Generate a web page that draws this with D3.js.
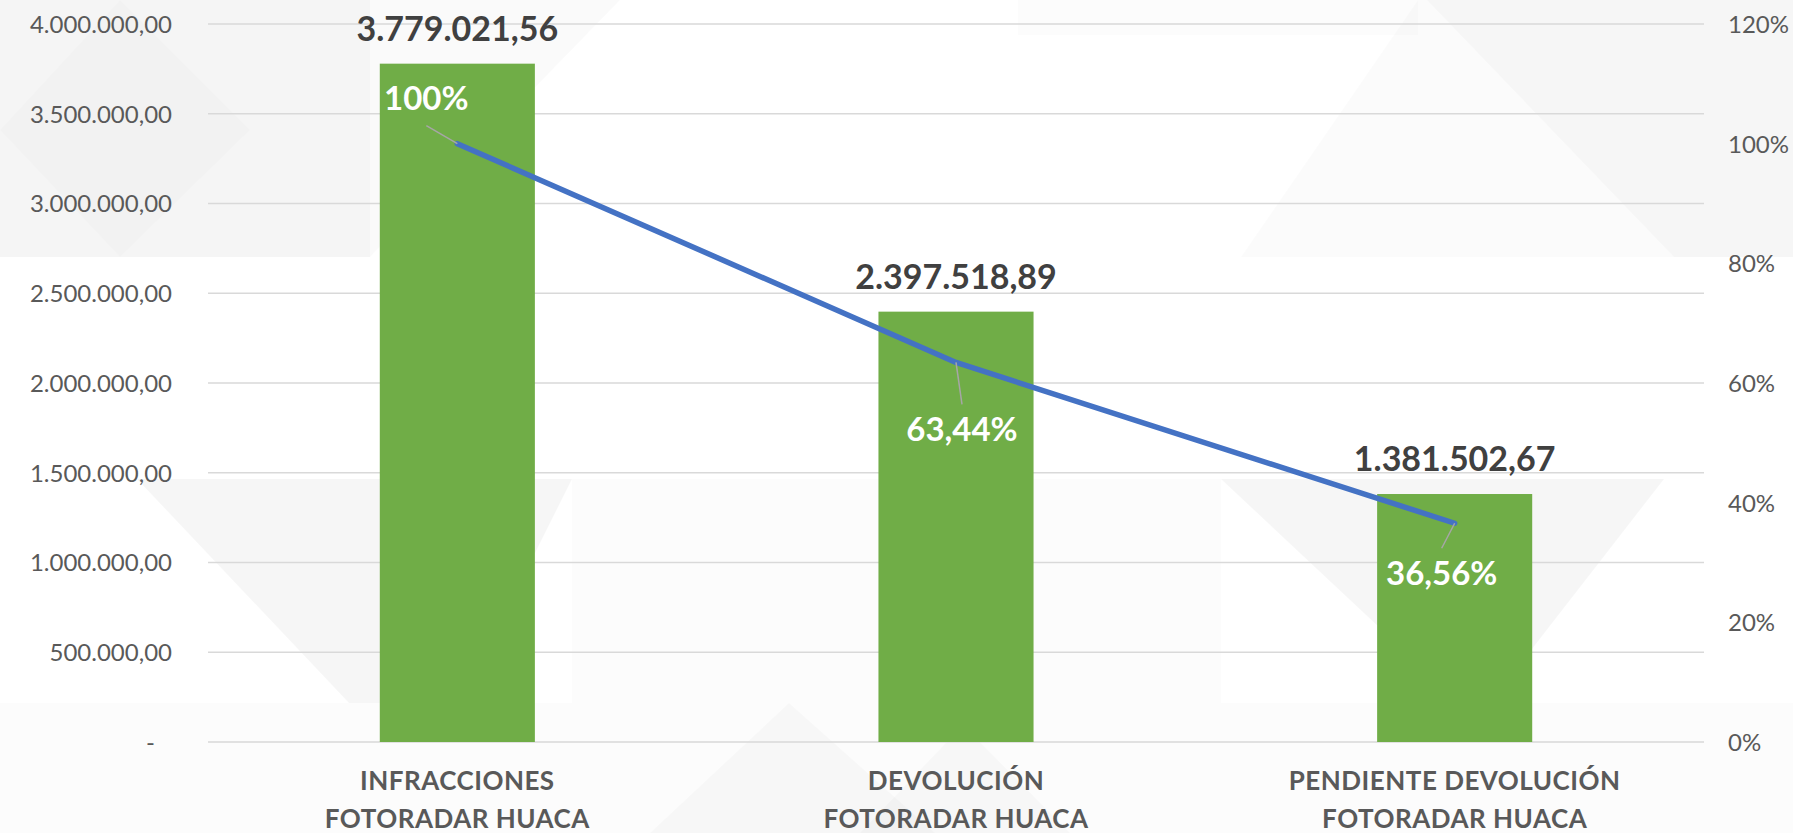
<!DOCTYPE html>
<html lang="es">
<head>
<meta charset="utf-8">
<script src="https://cdn.jsdelivr.net/npm/d3@7"></script>
<style>
  html, body { margin: 0; padding: 0; background: #ffffff; }
  svg { display: block; }
  text { font-family: Lato, "Open Sans", sans-serif; }
</style>
</head>
<body>
<svg id="chart" width="1793" height="833"></svg>
<script>
// ---- data ----
const categoryLines = [
  ["INFRACCIONES", "FOTORADAR HUACA"],
  ["DEVOLUCIÓN", "FOTORADAR HUACA"],
  ["PENDIENTE DEVOLUCIÓN", "FOTORADAR HUACA"]
];
const categories = categoryLines.map(l => l.join(" "));
const amounts = [3779021.56, 2397518.89, 1381502.67];
const shares = [1.00, 0.6344, 0.3656];
const leftTicks = [0, 500000, 1000000, 1500000, 2000000, 2500000, 3000000, 3500000, 4000000];
const rightTicks = [0, 0.2, 0.4, 0.6, 0.8, 1.0, 1.2];

// ---- layout ----
const W = 1793, H = 833;
const plot = { left: 208, right: 1704, top: 24, bottom: 742 };
// where each share label sits relative to its point: [dx, baseline dy]
const shareLabelOffset = [[-31, -34], [6, 79], [-13, 62]];

const svg = d3.select("#chart");

// Spanish number formatting: thousands "." and decimals ","
const es = d3.formatLocale({ decimal: ",", thousands: ".", grouping: [3], currency: ["", ""] });
const fmtAmount = es.format(",.2f");
const fmtPctInt = es.format(".0f");
const fmtPct2 = es.format(".2f");
const fmtShare = v => {
  const p = v * 100;
  return (Math.abs(p - Math.round(p)) < 1e-9 ? fmtPctInt(p) : fmtPct2(p)) + "%";
};

// ---- faint geometric slide background ----
const bg = svg.append("g").attr("class", "background");
const shapes = [
  { pts: [[0, 0], [370, 0], [370, 257], [0, 257]], a: 0.04 },
  { pts: [[370, 0], [620, 0], [370, 257]], a: 0.02 },
  { pts: [[0, 130], [120, 0], [250, 130], [120, 257]], a: 0.012 },
  { pts: [[1018, 0], [1418, 0], [1418, 35], [1018, 35]], a: 0.012 },
  { pts: [[1418, 0], [1793, 0], [1793, 257], [1241, 257]], a: 0.016 },
  { pts: [[1427, 0], [1793, 0], [1793, 257], [1674, 257]], a: 0.018 },
  { pts: [[137, 479], [572, 479], [460, 703], [349, 703]], a: 0.035 },
  { pts: [[572, 479], [1221, 479], [1221, 703], [572, 703]], a: 0.01 },
  { pts: [[1221, 479], [1664, 479], [1490, 703], [1460, 703]], a: 0.035 },
  { pts: [[0, 703], [1793, 703], [1793, 833], [0, 833]], a: 0.012 },
  { pts: [[789, 703], [935, 833], [650, 833]], a: 0.018 },
  { pts: [[963, 725], [1070, 833], [860, 833]], a: 0.018 }
];
bg.selectAll("polygon").data(shapes).join("polygon")
  .attr("points", d => d.pts.map(p => p.join(",")).join(" "))
  .attr("fill", "#000").attr("fill-opacity", d => d.a);

// ---- scales ----
const x = d3.scaleBand()
  .domain(categories)
  .range([plot.left, plot.right])
  .paddingInner(0.689)
  .paddingOuter(0.3445);
const yL = d3.scaleLinear().domain([0, 4000000]).range([plot.bottom, plot.top]);
const yR = d3.scaleLinear().domain([0, 1.2]).range([plot.bottom, plot.top]);
const cx = c => x(c) + x.bandwidth() / 2;

// ---- gridlines ----
svg.append("g").attr("class", "grid")
  .selectAll("line").data(leftTicks).join("line")
  .attr("x1", plot.left).attr("x2", plot.right)
  .attr("y1", d => yL(d)).attr("y2", d => yL(d))
  .attr("stroke", "#d9d9d9").attr("stroke-width", 1.5);

// ---- left axis ----
const axisL = svg.append("g")
  .attr("transform", `translate(${plot.left - 36},0)`)
  .call(d3.axisLeft(yL).tickValues(leftTicks).tickSize(0).tickPadding(0)
    .tickFormat(d => d === 0 ? "-" : fmtAmount(d)));
axisL.select(".domain").remove();
axisL.selectAll("text")
  .attr("x", d => d === 0 ? -17 : 0)
  .attr("fill", "#595959").attr("font-size", 24).attr("font-family", "Lato").attr("dy", "0.35em");

// ---- right axis ----
const axisR = svg.append("g")
  .attr("transform", `translate(${plot.right + 24},0)`)
  .call(d3.axisRight(yR).tickValues(rightTicks).tickSize(0).tickPadding(0)
    .tickFormat(d3.format(".0%")));
axisR.select(".domain").remove();
axisR.selectAll("text")
  .attr("fill", "#595959").attr("font-size", 24).attr("font-family", "Lato").attr("dy", "0.35em");

// ---- bars ----
svg.append("g").selectAll("rect").data(amounts).join("rect")
  .attr("x", (d, i) => x(categories[i]))
  .attr("width", x.bandwidth())
  .attr("y", d => yL(d))
  .attr("height", d => yL(0) - yL(d))
  .attr("fill", "#70ad47");

// ---- amount labels ----
svg.append("g").selectAll("text").data(amounts).join("text")
  .attr("x", (d, i) => cx(categories[i]))
  .attr("y", d => yL(d) - 23)
  .attr("text-anchor", "middle")
  .attr("font-size", 34).attr("font-weight", 700)
  .attr("fill", "#404040")
  .text(d => fmtAmount(d));

// ---- share line ----
const linePts = shares.map((s, i) => [cx(categories[i]), yR(s)]);
svg.append("path")
  .attr("d", d3.line()(linePts))
  .attr("fill", "none").attr("stroke", "#4472c4")
  .attr("stroke-width", 5.5).attr("stroke-linejoin", "round").attr("stroke-linecap", "round");

// ---- share labels with leader lines ----
const lbl = svg.append("g");
shares.forEach((s, i) => {
  const [px, py] = linePts[i];
  const [dx, dy] = shareLabelOffset[i];
  const lx = px + dx, ly = py + dy;
  const above = dy < 0;
  const endY = above ? ly + 16 : ly - 37;
  lbl.append("line")
    .attr("x1", px).attr("y1", py).attr("x2", lx).attr("y2", endY)
    .attr("stroke", "#a6a6a6").attr("stroke-width", 1.5);
  lbl.append("text")
    .attr("x", lx).attr("y", ly)
    .attr("text-anchor", "middle")
    .attr("font-size", 33).attr("font-weight", 700)
    .attr("fill", "#ffffff")
    .text(fmtShare(s));
});

// ---- category labels ----
const cat = svg.append("g");
categoryLines.forEach((lines, i) => {
  const t = cat.append("text")
    .attr("text-anchor", "middle")
    .attr("font-size", 26).attr("font-weight", 700)
    .attr("fill", "#595959")
    .attr("letter-spacing", 0.5);
  lines.forEach((line, j) => {
    t.append("tspan")
      .attr("x", cx(categories[i]))
      .attr("y", plot.bottom + 48 + j * 38)
      .text(line);
  });
});
</script>
</body>
</html>
